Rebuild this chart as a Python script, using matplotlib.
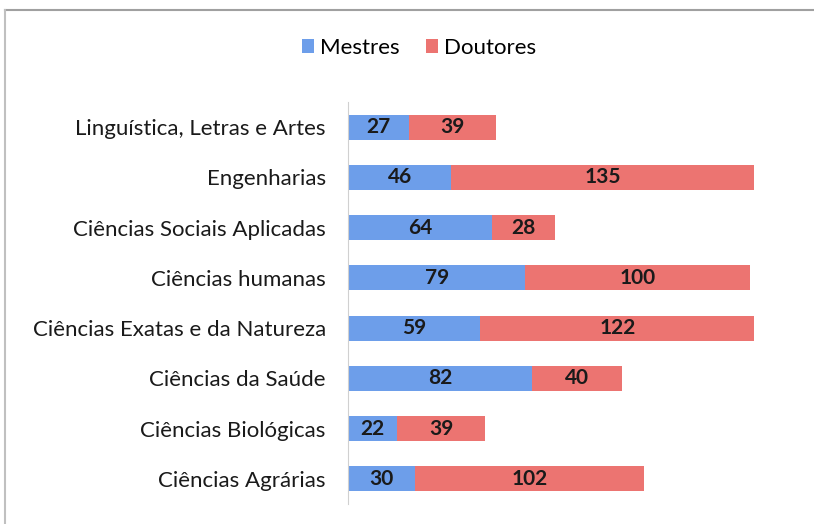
import matplotlib.pyplot as plt
from matplotlib.lines import Line2D

areas = ['Ciências Agrárias', 'Ciências Biológicas', 'Ciências da Saúde',
         'Ciências Exatas e da Natureza', 'Ciências humanas',
         'Ciências Sociais Aplicadas', 'Engenharias',
         'Linguística, Letras e Artes']
mestres = [30, 22, 82, 59, 79, 64, 46, 27]
doutores = [102, 39, 40, 122, 100, 28, 135, 39]

azul = '#6d9eea'
vermelho = '#ec7471'

plt.rcParams['font.family'] = ['Lato', 'DejaVu Sans']

fig = plt.figure(figsize=(8.14, 5.24), dpi=100)
ax = fig.add_axes([348/814, 20/524, 449/814, 402/524])

pos = range(len(areas))
b1 = ax.barh(pos, mestres, height=0.5, color=azul, label='Mestres')
b2 = ax.barh(pos, doutores, left=mestres, height=0.5, color=vermelho, label='Doutores')

# rotulos dentro das barras
for i in pos:
    ax.text(mestres[i]/2, i, str(mestres[i]), ha='center', va='center',
            fontsize=15, fontweight='bold', color='#1a1a1a')
    ax.text(mestres[i] + doutores[i]/2, i, str(doutores[i]), ha='center', va='center',
            fontsize=15, fontweight='bold', color='#1a1a1a')

ax.set_xlim(0, 200)
ax.set_ylim(-0.5, 7.5)
ax.set_yticks(list(pos))
ax.set_yticklabels(areas, fontsize=16, color='#1a1a1a')
ax.tick_params(axis='y', length=0, pad=16)
ax.set_xticks([])
for lado in ['top', 'right', 'bottom']:
    ax.spines[lado].set_visible(False)
ax.spines['left'].set_color('#d0d0d0')

fig.legend(handles=[b1, b2], loc='center', bbox_to_anchor=(419/814, 1 - 48/524),
           ncol=2, frameon=False, fontsize=16, handlelength=0.55, handleheight=0.55,
           handletextpad=0.25, columnspacing=1.2)

# moldura
fig.add_artist(Line2D([5/814, 1], [1 - 10/524, 1 - 10/524], color='#a0a0a0', lw=1.5))
fig.add_artist(Line2D([5/814, 5/814], [0, 1 - 10/524], color='#c0c0c0', lw=1.5))

plt.savefig('out.png')
